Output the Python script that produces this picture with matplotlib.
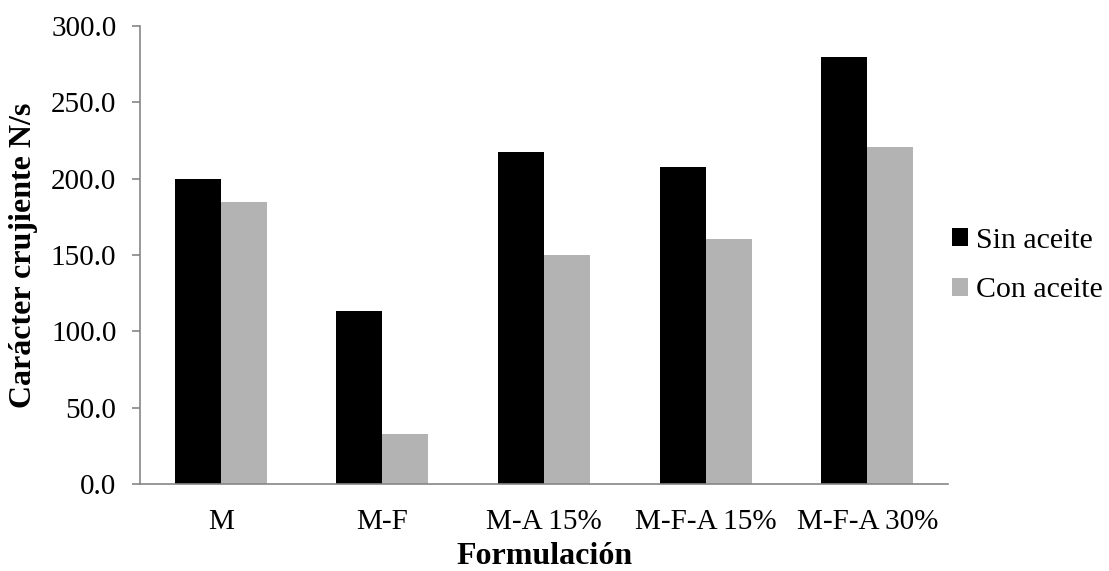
import matplotlib.pyplot as plt
import numpy as np

# Datos
formulaciones = ['M', 'M-F', 'M-A 15%', 'M-F-A 15%', 'M-F-A 30%']
sin_aceite = [200.0, 113.0, 217.5, 207.8, 280.0]
con_aceite = [185.0, 32.5, 150.0, 160.5, 220.8]

plt.rcParams['font.family'] = ['Liberation Serif', 'DejaVu Serif']

fig = plt.figure(figsize=(11.09, 5.71), dpi=100)
ax = fig.add_axes([0.1262, 0.1524, 0.7288, 0.8021])

x = np.arange(len(formulaciones))
w = 0.2845
ax.bar(x - w / 2, sin_aceite, width=w, color='black', label='Sin aceite')
ax.bar(x + w / 2, con_aceite, width=w, color='#b3b3b3', label='Con aceite')

ax.set_xlim(-0.5, len(formulaciones) - 0.5)
ax.set_ylim(0, 300)
ax.set_yticks(np.arange(0, 301, 50))
ax.set_yticklabels([f'{v:.1f}' for v in np.arange(0, 301, 50)])
ax.set_xticks(x)
ax.set_xticklabels(formulaciones)

for s in ['top', 'right']:
    ax.spines[s].set_visible(False)
for s in ['left', 'bottom']:
    ax.spines[s].set_color('#868686')
    ax.spines[s].set_linewidth(1.2)

ax.tick_params(axis='y', length=6, width=1.2, color='#868686', labelsize=21, pad=11)
ax.tick_params(axis='x', length=0, labelsize=21, pad=18)

ax.set_ylabel('Carácter crujiente N/s', fontsize=23, fontweight='bold', labelpad=9)
ax.set_xlabel('Formulación', fontsize=23, fontweight='bold', labelpad=5)

ax.legend(loc='center left', bbox_to_anchor=(0.834, 0.535), bbox_transform=fig.transFigure,
          frameon=False, fontsize=21.5, handlelength=0.55, handleheight=0.55,
          handletextpad=0.25, labelspacing=0.8)

plt.savefig('out.png', dpi=100)
